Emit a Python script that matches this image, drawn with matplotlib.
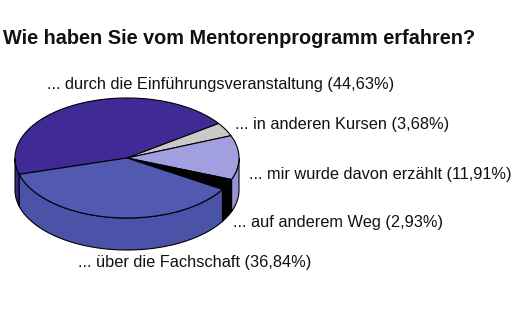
import numpy as np
import matplotlib
matplotlib.use("Agg")
import matplotlib.pyplot as plt
from matplotlib.patches import Polygon

plt.rcParams['font.family'] = ['Liberation Sans', 'DejaVu Sans']

title = "Wie haben Sie vom Mentorenprogramm erfahren?"
labels = ["... durch die Einführungsveranstaltung (44,63%)",
          "... in anderen Kursen (3,68%)",
          "... mir wurde davon erzählt (11,91%)",
          "... auf anderem Weg (2,93%)",
          "... über die Fachschaft (36,84%)"]
values = [44.63, 3.68, 11.91, 2.93, 36.84]
top_colors = ["#3f2a96", "#c9c9c9", "#a19fe0", "#000000", "#5159b0"]
wall_colors = ["#38268a", "#b5b5b5", "#9694d6", "#000000", "#4b53a8"]

# layout (pixels)
cx, cy, rx, ry, depth = 127, 158, 112, 60, 32
start = 35.1 + 44.63 * 3.6  # dark slice ends at 35.1 deg going clockwise from its start

fig = plt.figure(figsize=(5.18, 3.34), dpi=100)
ax = fig.add_axes([0, 0, 1, 1])
ax.set_xlim(0, 518)
ax.set_ylim(334, 0)
ax.axis('off')

def pt(t, dz=0):
    return cx + rx * np.cos(np.radians(t)), cy - ry * np.sin(np.radians(t)) + dz

# slice angle ranges, clockwise from start
ranges = []
a = start
for v in values:
    b = a - v * 3.6
    ranges.append((b, a))
    a = b

# walls (front half)
for (b, a), wc in zip(ranges, wall_colors):
    ts = np.linspace(b, a, 200)
    s = np.sin(np.radians(ts))
    mask = s <= 0.0
    if mask.sum() < 2:
        continue
    tt = ts[mask]
    top = [pt(t) for t in tt]
    bot = [pt(t, depth) for t in tt[::-1]]
    ax.add_patch(Polygon(top + bot, closed=True, facecolor=wc,
                         edgecolor='black', linewidth=0.8, joinstyle='round'))

# top faces
for (b, a), tc in zip(ranges, top_colors):
    ts = np.linspace(b, a, 200)
    poly = [(cx, cy)] + [pt(t) for t in ts]
    ax.add_patch(Polygon(poly, closed=True, facecolor=tc,
                         edgecolor='black', linewidth=0.8, joinstyle='round'))

ax.text(3, 38, title, fontsize=14.35, fontweight='bold', ha='left', va='center', color='#111111')

label_pos = [(47, 85), (235, 125), (249, 175), (233, 223), (78, 263)]
for lab, (x, y) in zip(labels, label_pos):
    ax.text(x, y, lab, fontsize=11.8, ha='left', va='center', color='#111111')

fig.savefig("out.png", dpi=100)
